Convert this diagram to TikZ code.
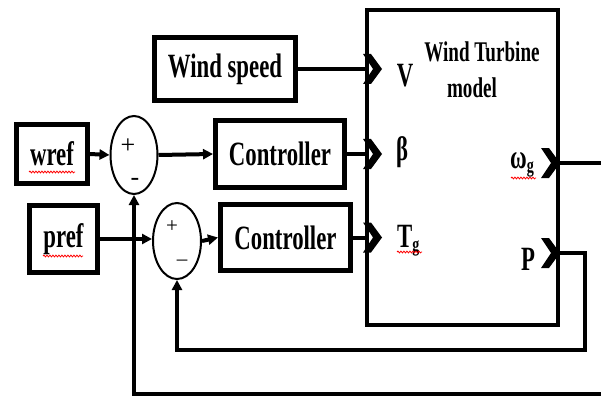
\documentclass[tikz,border=0pt]{standalone}
\usepackage{fontspec}
\newfontfamily\lbl{Liberation Serif}[FakeStretch=0.67]
\newfontfamily\sgn{Liberation Serif}
\usetikzlibrary{arrows.meta,decorations.pathmorphing,shapes.geometric,calc}
\newcommand\sbg{\raisebox{-4pt}{\fontsize{21}{21}\selectfont g}}
\begin{document}
\begin{tikzpicture}[x=1pt,y=-1pt,
  blk/.style={draw,line width=5pt,inner sep=0pt,font=\lbl\bfseries\fontsize{34}{34}\selectfont},
  lab/.style={inner sep=0pt,font=\lbl\bfseries\fontsize{34}{34}\selectfont},
  ttl/.style={inner sep=0pt,font=\lbl\bfseries\fontsize{28.5}{28.5}\selectfont},
  sumj/.style={draw,ellipse,line width=2pt,inner sep=0pt},
  sgnst/.style={inner sep=0pt,font=\sgn\fontsize{26}{26}\selectfont},
  con/.style={line width=4pt,line join=miter},
  arr/.style={con,-{Triangle[length=10pt,width=10pt]}},
  squig/.style={red,line width=0.8pt,decorate,decoration={snake,amplitude=0.9pt,segment length=3pt}},
  chevin/.pic={\fill (-2,-15) -- (6,-15) -- (17,0) -- (6,15) -- (-2,15) -- (8,0) -- cycle;},
  chevout/.pic={\fill (-19,-15) -- (-11,-15) -- (0,0) -- (-11,15) -- (-19,15) -- (-9,0) -- cycle;}
]
\useasboundingbox (0,0) rectangle (601,398);
\clip (0,0) rectangle (601,398);
\fill[white] (0,0) rectangle (601,398);

% blocks
\node[blk,minimum width=141pt,minimum height=63pt] (ws) at (225,69) {Wind speed};
\node[blk,minimum width=71pt,minimum height=59pt] (wref) at (52,154) {wref};
\node[blk,minimum width=68pt,minimum height=67pt] (pref) at (63.5,239) {pref};
\node[blk,minimum width=129pt,minimum height=67pt] (c1) at (280,154) {Controller};
\node[blk,minimum width=130pt,minimum height=66pt] (c2) at (285.5,237.5) {Controller};
\node[draw,line width=4pt,inner sep=0pt,minimum width=191pt,minimum height=315pt] (wt) at (462.5,167.5) {};

% summing junctions
\node[sumj,minimum width=47pt,minimum height=78pt] (s1) at (134,155) {};
\node[sumj,minimum width=48pt,minimum height=76pt] (s2) at (177,241) {};
\node[sgnst] (p1) at (128,146) {+};
\node[sgnst] (m1) at (135,182) {-};
\node[sgnst,font=\sgn\fontsize{21}{21}\selectfont] (p2) at (172,227) {+};
\node[sgnst,font=\sgn\fontsize{21}{21}\selectfont] (m2) at (182,263) {–};

% labels of the turbine model
\node[ttl,anchor=base] (t1) at (482,62) {Wind Turbine};
\node[ttl,anchor=base] (t2) at (472,98) {model};
\node[lab,anchor=base] (lv) at (405,87) {V};
\node[lab,anchor=base] (lb) at (402,160) {β};
\node[lab,anchor=base west] (lt) at (397,247) {T\sbg};
\node[lab,anchor=base west] (lo) at (510,168) {ω\sbg};
\node[lab,anchor=base] (lp) at (528,270) {P};

% forward connectors
\draw[arr] (wref.east) -- (s1.west);
\draw[arr] (s1.east) -- (c1.west);
\draw[arr] (pref.east) -- (pref.east -| s2.west);
\draw[arr] (s2.east) -- (c2.west);
\draw[con] (ws.east) -- (ws.east -| wt.west);
\draw[con] (c1.east) -- (c1.east -| wt.west);
\draw[con] (c2.east) -- (c2.east -| wt.west);

% input / output ports
\coordinate (iv) at (ws.east -| wt.west);
\coordinate (ib) at (c1.east -| wt.west);
\coordinate (it) at (c2.east -| wt.west);
\coordinate (om) at (wt.east |- 0,163);
\coordinate (op) at (wt.east |- 0,253);
\pic at (iv) {chevin};
\pic at (ib) {chevin};
\pic at (it) {chevin};
\pic at (om) {chevout};
\pic at (op) {chevout};

% feedback loops
\coordinate (b1) at (s1.south |- 0,394);
\coordinate (b2) at (s2.south |- 0,350);
\draw[arr] (om) -- (615,163) -- (615,394) -- (b1) -- (s1.south);
\draw[arr] (op) -- (585,253) -- (585,350) -- (b2) -- (s2.south);

% spell-check marks
\draw[squig] (29,172) -- (75,172);
\draw[squig] (43,256) -- (83,256);
\draw[squig] (397,252) -- (422,252);
\draw[squig] (511,178) -- (536,178);
\end{tikzpicture}
\end{document}
